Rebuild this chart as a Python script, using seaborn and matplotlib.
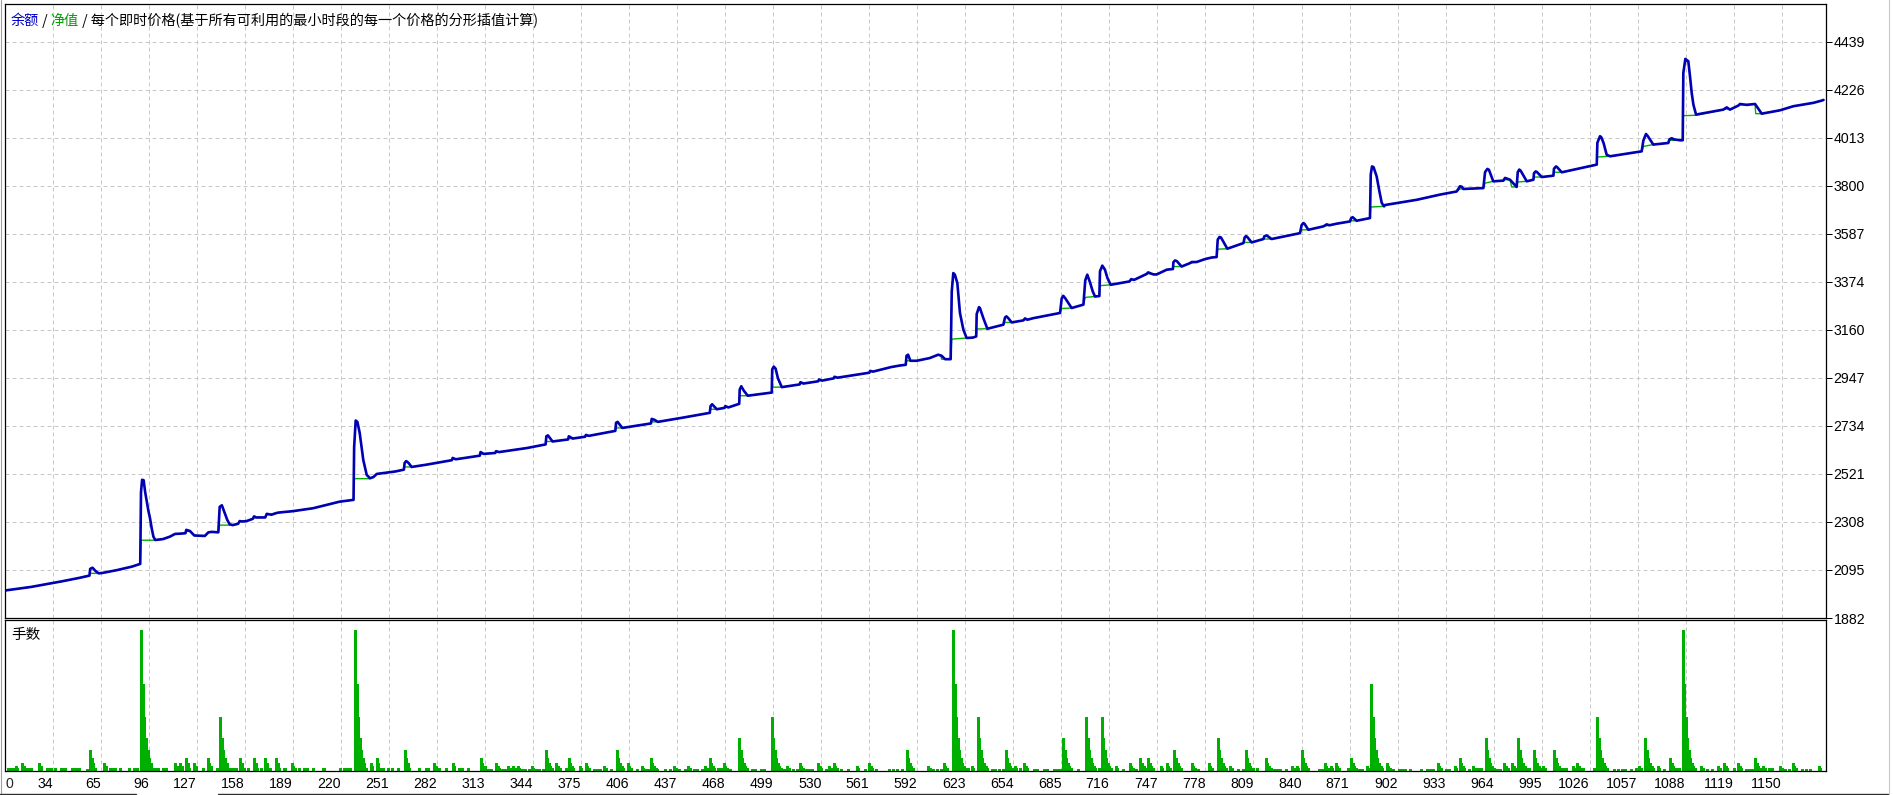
import matplotlib
matplotlib.use("Agg")
import matplotlib.pyplot as plt
from matplotlib.lines import Line2D
import seaborn as sns
import pandas as pd

# %% data
#

# balance line (blue), vertices (trade no., value)
balance_pts = [
    (3, 2004), (20, 2020), (40, 2045), (51, 2060), (57.5, 2070),
    (58, 2100), (59.5, 2105), (61.5, 2090), (63.5, 2080),
    (66, 2082), (75, 2094), (85, 2110), (90.3, 2122),
    (90.8, 2440), (91.5, 2495), (92.5, 2493), (93.5, 2440), (94.5, 2400),
    (95.5, 2360), (96.6, 2325), (97.7, 2280), (98.8, 2243), (100, 2228),
    (105, 2232), (109.5, 2243), (112.8, 2255), (116, 2256), (119.5, 2258),
    (120, 2273), (122.4, 2268), (125.2, 2248), (132, 2246),
    (134.3, 2262), (136.5, 2264), (140.7, 2262),
    (141.6, 2375), (143, 2382), (144.5, 2354), (146.5, 2317), (148, 2298),
    (150, 2294), (153.5, 2300), (154.5, 2312), (156, 2310), (159, 2312),
    (163, 2322), (163.8, 2333), (165, 2328), (171, 2328), (172, 2344),
    (175, 2340), (178.4, 2348), (180, 2350), (189, 2356), (202, 2369),
    (219, 2398), (228, 2406),
    (228.4, 2640), (229.4, 2758), (230.5, 2752), (232, 2702), (234.3, 2583),
    (236.5, 2517), (238.6, 2502), (240.8, 2507), (243, 2521),
    (255, 2532), (260.5, 2540), (261, 2570), (262, 2578), (263.5, 2570),
    (265.5, 2552), (275, 2562), (291.5, 2582), (292, 2592), (294, 2586),
    (309.5, 2602), (310, 2618), (312, 2610), (319.5, 2614), (320, 2622),
    (322, 2618), (340, 2636), (352, 2652), (352.5, 2688), (353.5, 2692),
    (356.5, 2665), (366.5, 2674), (367, 2688), (369.5, 2678), (377.5, 2686),
    (378, 2694), (380, 2690), (397, 2712), (397.5, 2748), (398.5, 2752),
    (401.5, 2725), (420, 2745), (420.5, 2765), (422, 2762), (424.5, 2752),
    (440, 2770), (458, 2792), (458.5, 2822), (459.5, 2830), (462.5, 2808),
    (467.5, 2814), (468, 2822), (470, 2816), (477, 2832), (477.3, 2895),
    (478.3, 2910), (480, 2890), (482.5, 2868), (498, 2882), (498.3, 2985),
    (499.3, 2997), (500.5, 2988), (502, 2945), (504.5, 2906), (516, 2918),
    (516.5, 2928), (518.5, 2922), (528, 2932), (528.5, 2940), (530.5, 2935),
    (538, 2945), (538.5, 2952), (540.5, 2948), (561, 2970), (561.5, 2978),
    (563.5, 2975), (575, 2995), (580.8, 3002), (584.5, 3005),
    (585, 3045), (586, 3050), (587.5, 3023), (591.6, 3023), (600, 3035),
    (605.5, 3050), (607.7, 3045), (609.9, 3030), (613.5, 3030),
    (614.2, 3330), (615.2, 3412), (616.2, 3405), (617.8, 3368), (619.5, 3235),
    (621.7, 3161), (623.8, 3124), (628, 3126), (630, 3131),
    (630.3, 3230), (631.8, 3261), (632.5, 3255), (634.6, 3212), (637.2, 3165),
    (647.5, 3183), (648.6, 3215), (649.5, 3220), (650.7, 3212), (652.9, 3193),
    (660.4, 3202), (661.5, 3211), (663, 3205), (666.9, 3212), (684.1, 3235),
    (685.2, 3300), (686.2, 3311), (687.5, 3300), (691.6, 3257), (699.2, 3272),
    (700.4, 3380), (701.7, 3405), (703.5, 3370), (705.2, 3331), (706.7, 3308),
    (709.5, 3310), (709.9, 3420), (711.4, 3445), (713.1, 3427), (714.7, 3390),
    (716.8, 3360), (729, 3375), (730, 3385), (732, 3382), (740, 3408),
    (741, 3415), (743, 3410), (744.4, 3406), (746.5, 3406), (753, 3427),
    (757, 3430), (757.3, 3460), (758.3, 3468), (759.5, 3465), (762.6, 3441),
    (768, 3456), (769.1, 3461), (772.3, 3461), (777.7, 3474), (782, 3481),
    (785.2, 3483), (785.9, 3560), (787, 3572), (788, 3570), (789.5, 3552),
    (792.1, 3520), (802.5, 3545), (803.3, 3570), (804.2, 3576), (805, 3572),
    (807.8, 3548), (815.4, 3563), (816, 3575), (817.5, 3579), (820.7, 3563),
    (839, 3589), (840.1, 3625), (841.2, 3634), (842, 3630), (844.4, 3604),
    (854.1, 3619), (856.3, 3628), (858, 3624), (862.7, 3631), (871.3, 3641),
    (872, 3655), (873, 3660), (875.6, 3644), (884.2, 3656),
    (884.7, 3850), (885.5, 3885), (886.5, 3882), (888.5, 3841), (890.3, 3774),
    (891.8, 3723), (893.3, 3708), (894, 3714), (914.4, 3737), (929.4, 3760),
    (940.2, 3774), (942.3, 3797), (943.5, 3795), (944.5, 3785), (957.4, 3789),
    (958.5, 3860), (960, 3874), (961, 3870), (963.8, 3819), (970.3, 3822),
    (971.4, 3834), (974.6, 3826), (978.9, 3794), (979.6, 3860), (980.6, 3871),
    (981.5, 3866), (985.4, 3819), (989.7, 3826), (990.1, 3855), (991.2, 3863),
    (992, 3860), (995.1, 3838), (1002.6, 3844), (1003, 3875), (1004.3, 3885),
    (1005, 3882), (1008, 3859), (1030.6, 3893),
    (1031, 3990), (1032.7, 4019), (1033.5, 4015), (1035, 3989), (1037, 3937),
    (1039.2, 3930), (1059.6, 3952), (1060.7, 4000), (1062.4, 4029),
    (1063.5, 4020), (1067.1, 3982), (1076.8, 3989), (1077.5, 4005),
    (1079, 4010), (1080.5, 4005), (1084.4, 4001), (1086.1, 4001),
    (1086.5, 4300), (1087.8, 4362), (1089, 4355), (1089.7, 4352),
    (1090.8, 4285), (1091.9, 4211), (1093, 4159), (1094.7, 4115),
    (1112.3, 4137), (1114.5, 4147), (1116.6, 4137), (1122, 4155),
    (1123.1, 4162), (1127.4, 4158), (1132.8, 4162), (1137.1, 4119),
    (1148.9, 4134), (1157.5, 4152), (1170.4, 4167), (1175.8, 4177), (1177, 4180),
]

# equity line (green), vertices (trade no., value)
equity_pts = [
    (3, 2004), (20, 2020), (40, 2045), (51, 2060), (57.5, 2070), (58, 2080),
    (63.5, 2080), (66, 2082), (75, 2094), (85, 2110), (90.3, 2122),
    (90.8, 2227), (100, 2227), (105, 2232), (109.5, 2243), (112.8, 2255),
    (116, 2256), (119.5, 2258), (120, 2266), (122.4, 2266), (125.2, 2248),
    (132, 2246), (134.3, 2262), (136.5, 2264), (140.7, 2262), (141.6, 2294),
    (150, 2294), (153.5, 2300), (154.5, 2310), (159, 2312), (163, 2322),
    (163.8, 2328), (171, 2328), (172, 2340), (178.4, 2348), (189, 2356),
    (202, 2369), (219, 2398), (228, 2406), (228.4, 2500), (238.6, 2500),
    (240.8, 2507), (243, 2521), (255, 2532), (260.5, 2540), (261, 2552),
    (265.5, 2552), (275, 2562), (291.5, 2582), (292, 2586), (294, 2586),
    (309.5, 2602), (310, 2610), (312, 2610), (319.5, 2614), (320, 2618),
    (322, 2618), (340, 2636), (352, 2652), (352.5, 2665), (356.5, 2665),
    (366.5, 2674), (367, 2678), (369.5, 2678), (377.5, 2686), (378, 2690),
    (380, 2690), (397, 2712), (397.5, 2725), (401.5, 2725), (420, 2745),
    (420.5, 2752), (424.5, 2752), (440, 2770), (458, 2792), (458.5, 2808),
    (462.5, 2808), (467.5, 2814), (468, 2816), (470, 2816), (477, 2832),
    (477.3, 2868), (482.5, 2868), (498, 2882), (498.3, 2906), (504.5, 2906),
    (516, 2918), (516.5, 2922), (518.5, 2922), (528, 2932), (528.5, 2935),
    (530.5, 2935), (538, 2945), (538.5, 2948), (540.5, 2948), (561, 2970),
    (561.5, 2975), (563.5, 2975), (575, 2995), (580.8, 3002), (584.5, 3005),
    (585, 3023), (591.6, 3023), (600, 3035), (605.5, 3050), (607, 3048),
    (607.7, 3030), (613.5, 3030), (614.2, 3119), (623.8, 3124), (628, 3126),
    (630, 3131), (630.3, 3164), (637.2, 3165), (647.5, 3183), (648.6, 3193),
    (652.9, 3193), (660.4, 3202), (661.5, 3205), (666.9, 3212), (684.1, 3235),
    (685.2, 3255), (691.6, 3257), (699.2, 3272), (700.4, 3304), (706.7, 3308),
    (709.5, 3310), (709.9, 3356), (716.8, 3360), (729, 3375), (730, 3382),
    (732, 3382), (740, 3408), (741, 3410), (744.4, 3406), (746.5, 3406),
    (753, 3427), (757, 3430), (757.3, 3441), (762.6, 3441), (768, 3456),
    (772.3, 3461), (777.7, 3474), (782, 3481), (785.2, 3483), (785.9, 3518),
    (792.1, 3520), (802.5, 3545), (803.3, 3548), (807.8, 3548), (815.4, 3563),
    (820.7, 3563), (839, 3589), (840.1, 3604), (844.4, 3604), (854.1, 3619),
    (862.7, 3631), (871.3, 3641), (872, 3644), (875.6, 3644), (884.2, 3656),
    (884.7, 3705), (893.3, 3708), (894, 3714), (914.4, 3737), (929.4, 3760),
    (940.2, 3774), (942.3, 3785), (944.5, 3785), (957.4, 3789), (958.5, 3811),
    (963.8, 3819), (970.3, 3822), (971.4, 3826), (974.6, 3826), (975.7, 3794),
    (978.9, 3794), (979.6, 3816), (985.4, 3819), (989.7, 3826), (990.1, 3838),
    (995.1, 3838), (1002.6, 3844), (1003, 3859), (1008, 3859), (1030.6, 3893),
    (1031, 3927), (1039.2, 3930), (1059.6, 3952), (1060.7, 3974),
    (1067.1, 3982), (1076.8, 3989), (1077.5, 4001), (1086.1, 4001),
    (1086.5, 4110), (1094.7, 4112), (1112.3, 4137), (1114.5, 4140),
    (1116.6, 4137), (1122, 4155), (1123.1, 4158), (1132.8, 4162),
    (1133.2, 4119), (1137.1, 4119), (1148.9, 4134), (1157.5, 4152),
    (1170.4, 4167), (1175.8, 4177), (1177, 4180),
]

# lots: runs of consecutive trades, (first trade no., [lots...])
lot_runs = [
    (5, [0.02, 0.02]), (8, [0.02]), (10, [0.03, 0.02]), (14, [0.05, 0.03, 0.02]),
    (18, [0.02]), (20, [0.02]), (25, [0.05, 0.03]), (30, [0.02]), (32, [0.02, 0.02]),
    (35, [0.02]), (39, [0.02, 0.02]), (42, [0.02]), (46, [0.02, 0.02]), (49, [0.02]),
    (51, [0.02]), (56, [0.01]), (58, [0.13, 0.08, 0.05, 0.02]), (67, [0.05, 0.03]),
    (71, [0.02]), (73, [0.02, 0.02]), (77, [0.02]), (83, [0.02]), (86, [0.02]),
    (88, [0.02]), (91, [0.89, 0.55, 0.34, 0.21, 0.13, 0.08, 0.05, 0.02, 0.02]),
    (100, [0.02]), (102, [0.02]), (105, [0.02]), (107, [0.02]), (113, [0.05, 0.03]),
    (116, [0.05, 0.03]), (120, [0.08, 0.05, 0.02]), (125, [0.05, 0.03]), (131, [0.02]),
    (134, [0.08, 0.05, 0.03]), (140, [0.02]), (142, [0.34, 0.21, 0.13, 0.08, 0.05, 0.02]),
    (149, [0.02, 0.02]), (152, [0.02]), (155, [0.08, 0.05, 0.02]), (160, [0.02]),
    (164, [0.08, 0.05, 0.02]), (168, [0.02]), (171, [0.08, 0.05, 0.02, 0.02]),
    (178, [0.08, 0.05, 0.02]), (183, [0.02, 0.02]), (188, [0.05, 0.03, 0.02]),
    (193, [0.02]), (196, [0.02]), (198, [0.02]), (202, [0.02]), (208, [0.02, 0.02]),
    (219, [0.02]), (222, [0.02]), (224, [0.02]), (226, [0.02]),
    (229, [0.89, 0.55, 0.34, 0.21, 0.13, 0.08, 0.05, 0.02]), (239, [0.05, 0.03]),
    (243, [0.08, 0.05]), (246, [0.02, 0.02]), (250, [0.02]), (253, [0.02]),
    (257, [0.02]), (261, [0.13, 0.08, 0.05, 0.02]), (270, [0.02]), (275, [0.02, 0.02]),
    (280, [0.05, 0.03]), (283, [0.02]), (288, [0.02]), (292, [0.05, 0.03]),
    (296, [0.02]), (298, [0.02]), (302, [0.02]), (310, [0.08, 0.05, 0.03, 0.03]),
    (315, [0.01]), (317, [0.01]), (320, [0.05, 0.03, 0.02]), (324, [0.01]),
    (326, [0.01]), (328, [0.03, 0.02]), (331, [0.03, 0.02]), (334, [0.03, 0.02]),
    (337, [0.01]), (339, [0.01]), (341, [0.01]), (343, [0.03, 0.02]), (346, [0.01]),
    (348, [0.01]), (350, [0.01]), (352, [0.13, 0.08, 0.05, 0.03, 0.02]),
    (359, [0.05, 0.03, 0.02]), (365, [0.02]), (367, [0.08, 0.05, 0.03, 0.02]),
    (374, [0.03, 0.02]), (378, [0.05, 0.03, 0.02]), (383, [0.01]), (385, [0.01]),
    (387, [0.01]), (390, [0.03, 0.02]), (394, [0.01]),
    (398, [0.13, 0.08, 0.05, 0.03, 0.02]), (405, [0.05, 0.03, 0.02]), (411, [0.01]),
    (414, [0.03, 0.02]), (416, [0.01]), (418, [0.01]),
    (420, [0.08, 0.05, 0.03, 0.02, 0.01]), (429, [0.01]), (432, [0.01]),
    (435, [0.03, 0.02]), (438, [0.01]), (442, [0.01]), (444, [0.03, 0.02]),
    (448, [0.01]), (450, [0.01]), (453, [0.01]), (455, [0.03, 0.02]),
    (458, [0.08, 0.05, 0.03, 0.02]), (463, [0.02]), (465, [0.02]),
    (467, [0.05, 0.03, 0.02]), (471, [0.01]), (477, [0.21, 0.13, 0.08, 0.05, 0.03, 0.02]),
    (485, [0.01]), (487, [0.01]), (491, [0.01]), (493, [0.01]),
    (498, [0.34, 0.21, 0.13, 0.08, 0.05, 0.03, 0.02]), (506, [0.01]),
    (508, [0.03, 0.02]), (512, [0.01]), (514, [0.01]), (516, [0.05, 0.03, 0.02]),
    (520, [0.01]), (522, [0.01]), (524, [0.01]), (528, [0.05, 0.03, 0.02]),
    (533, [0.01]), (535, [0.03, 0.02]), (538, [0.05, 0.03, 0.02]), (543, [0.01]),
    (547, [0.01]), (553, [0.03, 0.02]), (558, [0.01]), (561, [0.05, 0.03, 0.02]),
    (565, [0.01]), (574, [0.01]), (576, [0.01]), (579, [0.01]), (582, [0.01]),
    (585, [0.13, 0.08, 0.05, 0.03, 0.02]), (599, [0.03, 0.02]), (602, [0.01]),
    (605, [0.01]), (607, [0.01]), (609, [0.05, 0.03, 0.02]),
    (615, [0.89, 0.55, 0.34, 0.21, 0.13, 0.08, 0.05, 0.03, 0.02]), (625, [0.02]),
    (627, [0.03, 0.02]), (631, [0.34, 0.21, 0.13, 0.08, 0.05, 0.03, 0.02]),
    (640, [0.01]), (642, [0.01]), (645, [0.01]), (647, [0.01]),
    (649, [0.13, 0.08, 0.05, 0.03, 0.02]), (655, [0.03, 0.02]), (658, [0.02]),
    (661, [0.05, 0.03, 0.02]), (667, [0.01]), (669, [0.01]), (674, [0.01]),
    (676, [0.01]), (680, [0.01]), (682, [0.01]), (684, [0.01]),
    (686, [0.21, 0.13, 0.08, 0.05, 0.03, 0.02]), (696, [0.01]),
    (701, [0.34, 0.21, 0.13, 0.08, 0.05, 0.03, 0.02]), (709, [0.02]),
    (711, [0.34, 0.21, 0.13, 0.08, 0.05, 0.03, 0.02]), (720, [0.03, 0.02]),
    (725, [0.01]), (729, [0.05, 0.03, 0.02]), (733, [0.01]),
    (736, [0.08, 0.05, 0.03, 0.02]), (741, [0.08, 0.05, 0.03, 0.02]),
    (749, [0.03, 0.02]), (753, [0.05, 0.03, 0.02]),
    (758, [0.13, 0.08, 0.05, 0.03, 0.02]), (769, [0.05, 0.03, 0.02]), (773, [0.01]),
    (780, [0.05, 0.03, 0.02]), (786, [0.21, 0.13, 0.08, 0.05, 0.03, 0.02]),
    (794, [0.03, 0.02]), (799, [0.01]), (802, [0.01]),
    (804, [0.13, 0.08, 0.05, 0.03, 0.02]), (809, [0.02]), (811, [0.02]),
    (817, [0.08, 0.05, 0.03, 0.02]), (822, [0.01]), (824, [0.01]), (826, [0.01]),
    (830, [0.01]), (834, [0.03, 0.02]), (837, [0.03, 0.02]),
    (840, [0.13, 0.08, 0.05, 0.03, 0.02]), (851, [0.01]), (853, [0.01]),
    (855, [0.05, 0.03, 0.02]), (859, [0.03, 0.02]), (862, [0.05, 0.03, 0.02]),
    (870, [0.02]), (872, [0.08, 0.05, 0.03, 0.02]), (877, [0.01]), (879, [0.01]),
    (882, [0.03, 0.02]), (885, [0.55, 0.34, 0.21, 0.13, 0.08, 0.05, 0.03, 0.02]),
    (895, [0.05, 0.03, 0.02]), (899, [0.01]), (903, [0.01]), (905, [0.01]),
    (907, [0.01]), (910, [0.01]), (917, [0.01]), (921, [0.01]), (923, [0.01]),
    (925, [0.01]), (928, [0.05, 0.03, 0.02]), (933, [0.01]), (935, [0.01]),
    (939, [0.03, 0.02]), (942, [0.08, 0.05, 0.03, 0.02]), (948, [0.01]),
    (951, [0.03, 0.02]), (954, [0.02]), (956, [0.02]),
    (959, [0.21, 0.13, 0.08, 0.05, 0.03, 0.02]), (966, [0.01]), (968, [0.01]),
    (971, [0.05, 0.03, 0.02]), (976, [0.05, 0.03, 0.02]),
    (980, [0.21, 0.13, 0.08, 0.05, 0.03, 0.02]), (987, [0.02]),
    (990, [0.13, 0.08, 0.05, 0.03, 0.02]), (996, [0.03, 0.02]),
    (1003, [0.13, 0.08, 0.05, 0.03, 0.02]), (1009, [0.02]), (1011, [0.02]),
    (1015, [0.03, 0.02]), (1018, [0.05, 0.03, 0.02]), (1022, [0.02]), (1029, [0.02]),
    (1031, [0.34, 0.21, 0.13, 0.08, 0.05, 0.03, 0.02]), (1042, [0.01]),
    (1044, [0.01]), (1047, [0.01]), (1049, [0.01]), (1053, [0.01]), (1056, [0.02]),
    (1058, [0.03, 0.02]), (1062, [0.21, 0.13, 0.08, 0.05, 0.03, 0.02]),
    (1070, [0.03, 0.02]), (1074, [0.01]), (1078, [0.08, 0.05, 0.03, 0.02]),
    (1082, [0.02]), (1084, [0.02]),
    (1086, [0.89, 0.55, 0.34, 0.21, 0.13, 0.08, 0.05, 0.03, 0.02]),
    (1098, [0.03, 0.02]), (1102, [0.01]), (1105, [0.01]), (1109, [0.03, 0.02]),
    (1113, [0.05, 0.03, 0.02]), (1119, [0.02]), (1122, [0.05, 0.03, 0.02]),
    (1127, [0.01]), (1129, [0.01]), (1131, [0.01]), (1133, [0.08, 0.05, 0.03, 0.02]),
    (1138, [0.03, 0.02]), (1142, [0.02]), (1144, [0.02]), (1149, [0.03, 0.02]),
    (1152, [0.01]), (1155, [0.01]), (1157, [0.05, 0.03, 0.02]), (1163, [0.01]),
    (1166, [0.01]), (1168, [0.01]), (1174, [0.03, 0.02]),
]

# axis ticks
y_ticks = [1882, 2095, 2308, 2521, 2734, 2947, 3160, 3374, 3587, 3800, 4013, 4226, 4439]
x_ticks = [34, 65, 96, 127, 158, 189, 220, 251, 282, 313, 344, 375, 406, 437, 468,
           499, 530, 561, 592, 623, 654, 685, 716, 747, 778, 809, 840, 871, 902,
           933, 964, 995, 1026, 1057, 1088, 1119, 1150]

# %% build tables for seaborn
#

balance = pd.DataFrame(balance_pts, columns=["trade", "value"])
equity = pd.DataFrame(equity_pts, columns=["trade", "value"])

lot_x, lot_y = [], []
for _start, _lots in lot_runs:
    for _i, _lot in enumerate(_lots):
        lot_x.append(_start + _i)
        lot_y.append(_lot)

# %% plot
#

sns.set_theme(style="white")
plt.rcParams["font.family"] = ["Liberation Sans", "Noto Sans CJK SC", "DejaVu Sans"]

W, H = 1893, 795
fig = plt.figure(figsize=(W / 100, H / 100), dpi=100)
fig.patch.set_facecolor("white")

# main panel and lots panel (pixel layout of the tester window)
ax = fig.add_axes([5 / W, 1 - 618 / H, 1821 / W, 614 / H])
ax2 = fig.add_axes([5 / W, 1 - 771 / H, 1821 / W, 151 / H])

blue = "#0000B4"
green = "#00B000"
grid_kw = dict(color="#C8C8C8", linestyle=(0, (4, 3)), linewidth=0.72)

# equity below, balance on top
sns.lineplot(data=equity, x="trade", y="value", sort=False, estimator=None,
             color=green, linewidth=1.0, ax=ax)
sns.lineplot(data=balance, x="trade", y="value", sort=False, estimator=None,
             color=blue, linewidth=1.9, ax=ax)

ax.set_xlim(3.0, 1178.6)
ax.set_ylim(1882, 4605.5)
ax.set_xticks(x_ticks)
ax.set_yticks(y_ticks)
ax.set_yticklabels([str(v) for v in y_ticks])
ax.yaxis.tick_right()
ax.tick_params(axis="y", direction="out", length=4, width=0.72, pad=1.5,
               labelsize=10.2, colors="black")
ax.tick_params(axis="x", length=0, labelbottom=False)
ax.grid(True, **grid_kw)
ax.set_axisbelow(True)
ax.set_xlabel("")
ax.set_ylabel("")

# lots bars
ax2.vlines(lot_x, 0, lot_y, colors=green, linewidth=0.9, antialiased=False)
ax2.set_xlim(3.0, 1178.6)
ax2.set_ylim(0, 0.953)
ax2.set_xticks(x_ticks)
ax2.set_xticklabels([str(v) for v in x_ticks], ha="right")
ax2.set_yticks([])
ax2.tick_params(axis="x", direction="out", length=3, width=0.72, pad=1,
                labelsize=10.2, colors="black")
ax2.grid(True, axis="x", **grid_kw)
ax2.set_axisbelow(True)

for _a in (ax, ax2):
    _a.set_facecolor("white")
    for _s in _a.spines.values():
        _s.set_color("black")
        _s.set_linewidth(0.9)
        _s.set_visible(True)

# first x label sits at the left edge
fig.text(6 / W, 1 - 783.5 / H, "0", ha="left", va="center", fontsize=10.2)

# header text in three colours
cjk = ["Noto Sans CJK SC", "DejaVu Sans"]
t1 = fig.text(10.7 / W, 1 - 25 / H, "余额", color="#0000C8", family=cjk,
              fontsize=10.2, va="baseline")
t2 = ax.annotate(" / ", xy=(1, 0), xycoords=t1, va="bottom", ha="left",
                 color="black", family=cjk, fontsize=10.2, annotation_clip=False)
t3 = ax.annotate("净值", xy=(1, 0), xycoords=t2, va="bottom", ha="left",
                 color="#00A000", family=cjk, fontsize=10.2, annotation_clip=False)
ax.annotate(" / 每个即时价格(基于所有可利用的最小时段的每一个价格的分形插值计算)",
            xy=(1, 0), xycoords=t3, va="bottom", ha="left", color="black",
            family=cjk, fontsize=10.2, annotation_clip=False)

fig.text(11.5 / W, 1 - 639.5 / H, "手数", color="black", family=cjk,
         fontsize=10.5, va="baseline")

# window frame bits
fig.add_artist(Line2D([0.5 / W, 0.5 / W], [0, 1], color="#A0A0A0", linewidth=0.8))
fig.add_artist(Line2D([1888.5 / W, 1888.5 / W], [0, 1], color="#C8C8C8", linewidth=0.8))
fig.add_artist(Line2D([0, 136 / W], [0.6 / H, 0.6 / H], color="#303030", linewidth=1.0))
fig.add_artist(Line2D([218 / W, 1888 / W], [0.6 / H, 0.6 / H], color="#303030", linewidth=1.0))

fig.savefig("out.png", dpi=100, facecolor="white")
